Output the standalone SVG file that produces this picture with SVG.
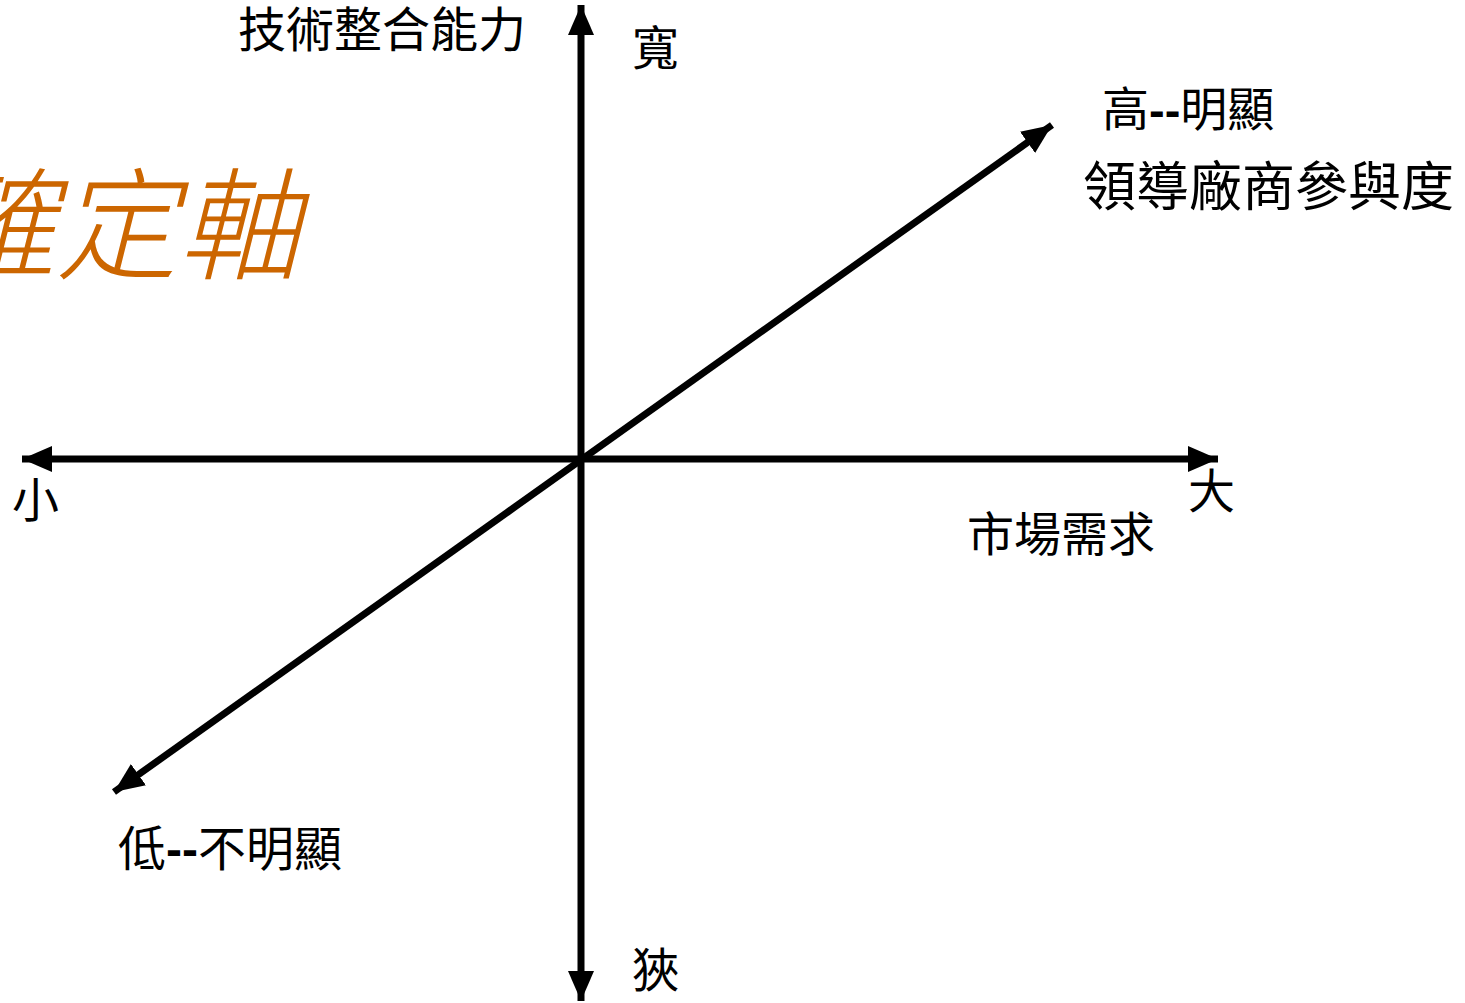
<svg xmlns="http://www.w3.org/2000/svg" width="1465" height="1003" viewBox="0 0 1465 1003">
<style>
.t{font-family:"Liberation Sans","Noto Sans CJK TC",sans-serif;fill:#000;}
.ax{stroke:#000;stroke-width:7;fill:none;}
.title{font-family:"Noto Sans CJK TC",sans-serif;font-style:italic;fill:#CC6600;font-size:122px;font-weight:300;}
</style>
<defs>
<marker id="ah" viewBox="0 0 30 26" refX="30" refY="13" markerWidth="30" markerHeight="26" markerUnits="userSpaceOnUse" orient="auto-start-reverse">
<path d="M0,0 L30,13 L0,26 Z" fill="#000"/>
</marker>
</defs>
<rect width="1465" height="1003" fill="#fff"/>
<g id="title"><text class="title" x="-66" y="270">確定軸</text></g>
<g id="connectors">
<line class="ax" x1="581" y1="1001" x2="581" y2="5" marker-start="url(#ah)" marker-end="url(#ah)"/>
<line class="ax" x1="22" y1="459" x2="1218" y2="459" marker-start="url(#ah)" marker-end="url(#ah)"/>
<line class="ax" x1="114" y1="792" x2="1052" y2="125" marker-start="url(#ah)" marker-end="url(#ah)"/>
</g>
<g id="label-tech"><text class="t" x="238" y="47" font-size="48">技術整合能力</text></g>
<g id="label-wide"><text class="t" x="632" y="65" font-size="47">寬</text></g>
<g id="label-narrow"><text class="t" x="632" y="987" font-size="47">狹</text></g>
<g id="label-small"><text class="t" x="12" y="517" font-size="47">小</text></g>
<g id="label-big"><text class="t" x="1188" y="508" font-size="47">大</text></g>
<g id="label-market"><text class="t" x="967" y="551" font-size="47">市場需求</text></g>
<g id="label-high"><text class="t" x="1102" y="126" font-size="47">高<tspan font-weight="bold">--</tspan>明顯</text></g>
<g id="label-leader"><text class="t" x="1083" y="206" font-size="53">領導廠商參與度</text></g>
<g id="label-low"><text class="t" x="118" y="866" font-size="48">低<tspan font-weight="bold">--</tspan>不明顯</text></g>
</svg>
